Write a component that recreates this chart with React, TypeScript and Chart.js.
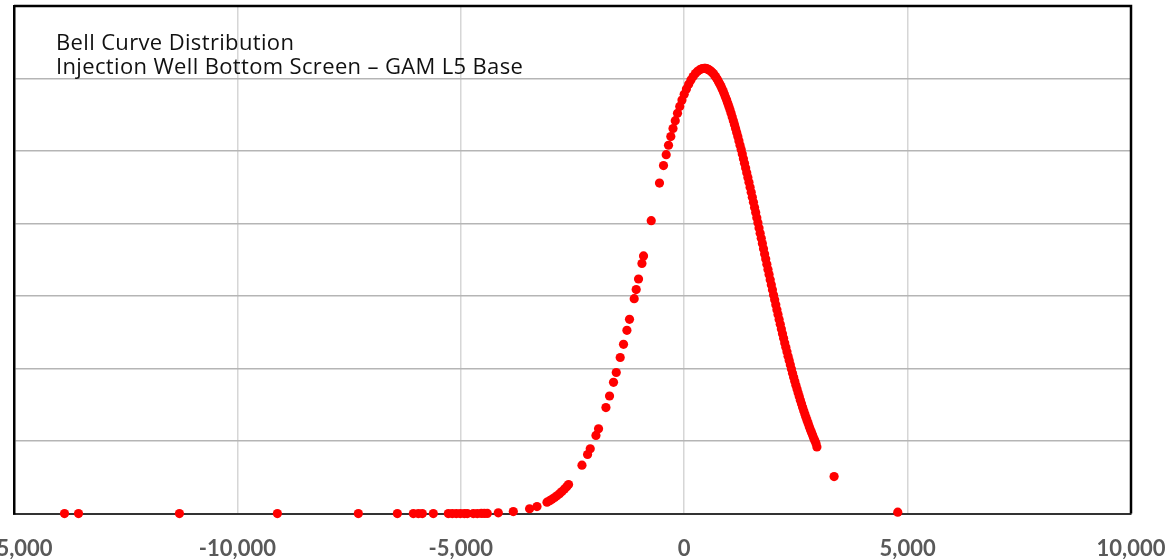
import React, { useEffect, useRef } from "react";
import { Chart, registerables } from "chart.js";

Chart.register(...registerables);

// ---- Data ----
const tailLeftX = [-13870, -13556, -11297, -9105, -7293, -6420, -6062, -5950, -5861, -5615, -5279, -5190, -5100, -5011, -4921, -4854, -4720, -4631, -4541, -4474, -4407, -4161, -3825];
const tailLeftY = [0, 0, 0, 0, 0, 0, 0, 0, 0, 0, 0, 0, 0, 0, 0, 0, 0.001, 0.001, 0.002, 0.002, 0.003, 0.011, 0.028];

const riseX = [-3461, -3295, -3071, -3010, -2960, -2900, -2848, -2790, -2736, -2680, -2630, -2588, -2288, -2163, -2103, -1975, -1917, -1752, -1671, -1582, -1521, -1432, -1358, -1282, -1224, -1119, -1074, -1022, -946, -910, -738, -553, -463, -403, -351];
const riseY = [0.067, 0.097, 0.157, 0.178, 0.197, 0.222, 0.246, 0.275, 0.305, 0.338, 0.371, 0.4, 0.668, 0.815, 0.893, 1.078, 1.17, 1.462, 1.622, 1.81, 1.946, 2.153, 2.334, 2.528, 2.679, 2.964, 3.089, 3.235, 3.449, 3.553, 4.04, 4.558, 4.8, 4.95, 5.08];

const crestX = [-300, -250, -200, -150, -100, -50, 0, 50, 100, 150, 200, 250, 300, 350, 400, 450, 500, 550, 600, 650, 700, 750, 800, 850, 900, 950, 1000, 1050, 1100, 1150, 1200, 1250, 1300, 1350, 1400, 1450];
const crestY = [5.199, 5.311, 5.419, 5.52, 5.615, 5.702, 5.783, 5.856, 5.921, 5.979, 6.028, 6.068, 6.099, 6.122, 6.135, 6.14, 6.135, 6.122, 6.099, 6.068, 6.028, 5.979, 5.921, 5.856, 5.783, 5.702, 5.615, 5.52, 5.419, 5.311, 5.199, 5.081, 4.958, 4.832, 4.701, 4.568];

const shoulderX = [475, 525, 575, 625, 675, 725, 775, 825, 875, 925, 975, 1025, 1075, 1125, 1175, 1225, 1275, 1325, 1375, 1425];
const shoulderY = [6.139, 6.129, 6.111, 6.084, 6.048, 6.004, 5.95, 5.889, 5.82, 5.743, 5.659, 5.568, 5.47, 5.365, 5.255, 5.14, 5.02, 4.895, 4.767, 4.635];

const fallX = [1475, 1500, 1525, 1550, 1575, 1600, 1625, 1650, 1675, 1700, 1725, 1750, 1775, 1800, 1825, 1850, 1875, 1900, 1925, 1950, 1975, 2000, 2025, 2050, 2075, 2100, 2125, 2150, 2175, 2200, 2225, 2250, 2275, 2300, 2325, 2350, 2375, 2400, 2425, 2450, 2475, 2500, 2525, 2550, 2575, 2600, 2625, 2650, 2675, 2700, 2725, 2750, 2775, 2800, 2825, 2850, 2875, 2900, 2925, 2950, 2970];
const fallY = [4.5, 4.431, 4.362, 4.292, 4.222, 4.152, 4.081, 4.01, 3.939, 3.867, 3.796, 3.724, 3.653, 3.581, 3.51, 3.438, 3.367, 3.296, 3.226, 3.155, 3.086, 3.016, 2.948, 2.879, 2.812, 2.744, 2.678, 2.611, 2.546, 2.481, 2.418, 2.354, 2.293, 2.231, 2.171, 2.11, 2.052, 1.994, 1.937, 1.88, 1.826, 1.771, 1.719, 1.666, 1.615, 1.564, 1.516, 1.467, 1.42, 1.373, 1.329, 1.284, 1.242, 1.199, 1.158, 1.117, 1.079, 1.04, 1.003, 0.966, 0.92];

const tailRightX = [3355, 4780];
const tailRightY = [0.51, 0.02];

const xTicks = [-15000, -10000, -5000, 0, 5000, 10000];
const titleLines = ["Bell Curve Distribution", "Injection Well Bottom Screen \u2013 GAM L5 Base"];

const OFFSET_L = 60;
const OFFSET_R = 30;
const CANVAS_H = 585;

const zip = (xs: number[], ys: number[]) => xs.map((x, i) => ({ x, y: ys[i] }));

const framePlugin = {
  id: "frame",
  beforeDatasetsDraw(chart: any) {
    const { ctx, chartArea } = chart;
    ctx.save();
    ctx.strokeStyle = "#000000";
    ctx.lineWidth = 2.5;
    ctx.beginPath();
    ctx.moveTo(chartArea.left, chartArea.top);
    ctx.lineTo(chartArea.right, chartArea.top);
    ctx.lineTo(chartArea.right, chartArea.bottom);
    ctx.stroke();
    ctx.restore();
  },
  afterDraw(chart: any) {
    const { ctx, chartArea } = chart;
    ctx.save();
    ctx.fillStyle = "#111111";
    ctx.font = '22px "Open Sans"';
    try {
      (ctx as any).letterSpacing = "0.35px";
    } catch (e) {}
    ctx.textBaseline = "alphabetic";
    ctx.textAlign = "left";
    ctx.fillText(titleLines[0], chartArea.left + 42, 50);
    ctx.fillText(titleLines[1], chartArea.left + 42, 74);
    ctx.restore();
  },
};

export default function App() {
  const ref = useRef<HTMLCanvasElement | null>(null);
  useEffect(() => {
    if (!ref.current) return;
    const points = [
      ...zip(tailLeftX, tailLeftY),
      ...zip(riseX, riseY),
      ...zip(crestX, crestY),
      ...zip(shoulderX, shoulderY),
      ...zip(fallX, fallY),
      ...zip(tailRightX, tailRightY),
    ];
    const chart = new Chart(ref.current, {
      type: "scatter",
      data: {
        datasets: [
          {
            data: points,
            pointRadius: 4.6,
            pointHoverRadius: 4.6,
            pointBackgroundColor: "#ff0000",
            pointBorderWidth: 0,
            borderColor: "#ff0000",
            clip: false,
          } as any,
        ],
      },
      options: {
        animation: false,
        responsive: false,
        layout: { padding: { left: 14 + OFFSET_L, right: 44 + OFFSET_R, top: 6, bottom: 1 } },
        plugins: { legend: { display: false }, tooltip: { enabled: false }, title: { display: false } },
        scales: {
          x: {
            type: "linear",
            min: -15000,
            max: 10000,
            afterBuildTicks: (axis: any) => {
              axis.ticks = xTicks.map((v) => ({ value: v }));
            },
            grid: { color: "#d6d6d6", lineWidth: 1.5, drawTicks: false },
            border: { display: true, color: "#333333", width: 2 },
            ticks: {
              padding: 22,
              maxRotation: 0,
              autoSkip: false,
              color: "#595959",
              font: { family: "Lato", weight: "bold", size: 22 },
              callback: (v: any) => Number(v).toLocaleString("en-US"),
            },
          },
          y: {
            type: "linear",
            min: 0,
            max: 7,
            ticks: { display: false, stepSize: 1 },
            grid: { color: "#b5b5b5", lineWidth: 1.5, drawTicks: false },
            border: { display: true, color: "#000000", width: 2.5 },
          },
        },
      },
      plugins: [framePlugin],
    });
    return () => chart.destroy();
  }, []);
  return (
    <canvas
      ref={ref}
      width={1175 + OFFSET_L + OFFSET_R}
      height={CANVAS_H}
      style={{ position: "fixed", left: -OFFSET_L, top: 0, width: 1175 + OFFSET_L + OFFSET_R, height: CANVAS_H }}
    />
  );
}
